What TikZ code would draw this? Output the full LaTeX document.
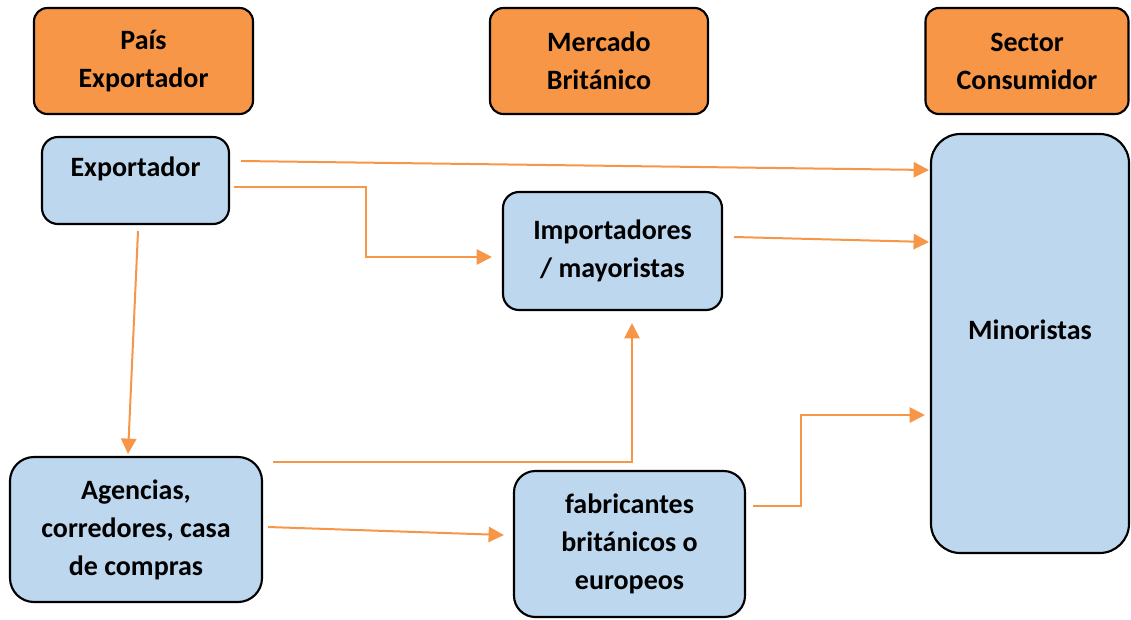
\documentclass[tikz,border=0pt]{standalone}
\usepackage{fontspec}
\setmainfont{Carlito}
\usepackage{tikz}
\usetikzlibrary{arrows.meta,calc}
\definecolor{headorange}{HTML}{F79646}
\definecolor{boxblue}{HTML}{BDD7EE}
\newcommand{\HD}[0]{headorange}
\newcommand{\BX}[0]{boxblue}

\begin{document}
\begin{tikzpicture}[x=0.75pt,y=-0.75pt,
  head/.style={draw=black, line width=1.6pt, fill=\HD, rounded corners=10pt,
    align=center, font=\fontsize{21}{28.5}\selectfont\bfseries},
  actor/.style={draw=black, line width=1.6pt, fill=\BX, rounded corners=12pt,
    align=center, font=\fontsize{21}{28.5}\selectfont\bfseries},
  flow/.style={draw=\HD, line width=1.5pt, -{Triangle[length=11.5pt,width=11.5pt]}}]

  \useasboundingbox (0,0) rectangle (1131,619);

  %% column heads
  \node[head, minimum width=219*0.75pt, minimum height=106*0.75pt]
    (pais) at (143.5,61) {País\\Exportador};
  \node[head, minimum width=218*0.75pt, minimum height=106*0.75pt]
    (merc) at (599,61) {Mercado\\Británico};
  \node[head, minimum width=203*0.75pt, minimum height=106*0.75pt]
    (sect) at (1027,61) {Sector\\Consumidor};

  %% actors
  \node[actor, text depth=20pt, minimum width=187*0.75pt, minimum height=87*0.75pt]
    (exp) at (135.5,180.5) {Exportador};
  \node[actor, minimum width=219*0.75pt, minimum height=118*0.75pt]
    (imp) at (612.5,251) {Importadores\\/ mayoristas};
  \node[actor, text depth=20pt, rounded corners=22pt, minimum width=198*0.75pt, minimum height=419*0.75pt]
    (mino) at (1030,343.5) {Minoristas};
  \node[actor, rounded corners=18pt, minimum width=252*0.75pt, minimum height=145*0.75pt]
    (agen) at (136,529.5) {Agencias,\\corredores, casa\\de compras};
  \node[actor, rounded corners=16pt, minimum width=231*0.75pt, minimum height=146*0.75pt]
    (fabr) at (629.5,544) {fabricantes\\británicos o\\europeos};

  %% flows
  \draw[flow] ($(exp.east)+(11,-19.5)$) -- ($(mino.west)+(-1,-173.5)$); % exp - mino
  \draw[flow] ($(exp.east)+(4,6.5)$) -- ++(132,0)
    |- ($(imp.west)+(-10,6)$); % exp - imp
  \draw[flow] ($(imp.east)+(11,-14)$) -- ($(mino.west)+(-1,-101.5)$); % imp - mino
  \draw[flow] ($(exp.south)+(2.5,6)$) -- ($(agen.north)+(-8,-2)$); % exp - agen
  \draw[flow] ($(agen.east)+(10,-67.5)$) -| ($(imp.south)+(19.5,12)$); % agen - imp
  \draw[flow] ($(agen.east)+(5,-2.5)$) -- ($(fabr.west)+(-9,-9)$); % agen - fabr
  \draw[flow] ($(fabr.east)+(7,-38)$) -- ++(48,0)
    |- ($(mino.west)+(-5,71.5)$); % fabr - mino

\end{tikzpicture}
\end{document}
